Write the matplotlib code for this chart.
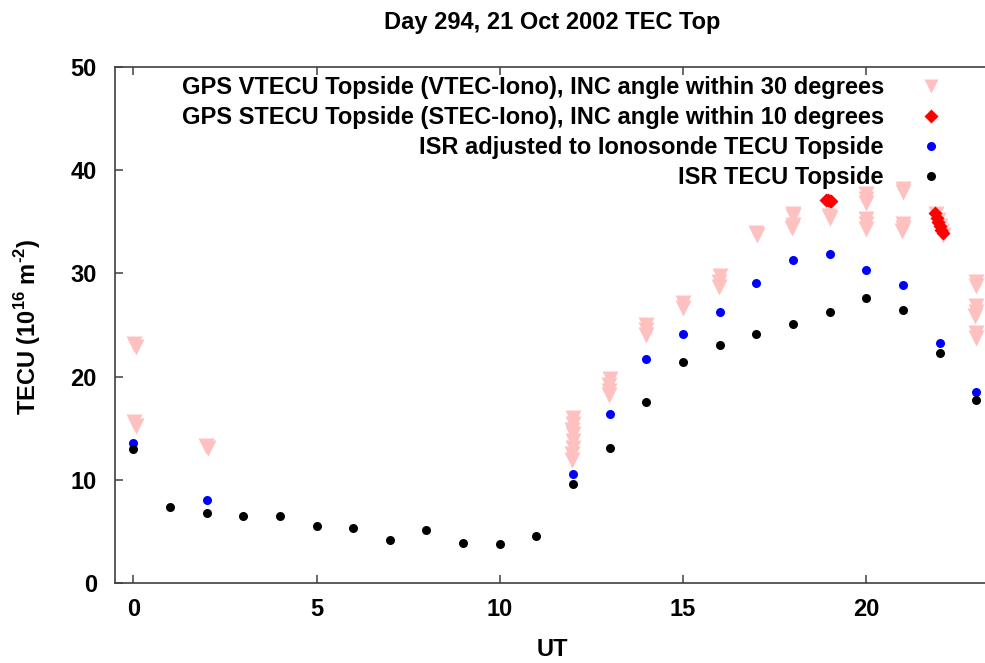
import matplotlib
matplotlib.use("Agg")
import matplotlib.pyplot as plt

plt.rcParams['font.family'] = ['Liberation Sans', 'DejaVu Sans']
plt.rcParams['font.weight'] = 'bold'
plt.rcParams['mathtext.fontset'] = 'custom'
plt.rcParams['mathtext.rm'] = 'Liberation Sans:bold'
plt.rcParams['mathtext.bf'] = 'Liberation Sans:bold'

# ISR topside TEC, one value per hour
isr_ut = list(range(24))
isr_tec = [12.95, 7.35, 6.8, 6.45, 6.45, 5.55, 5.3, 4.2, 5.15, 3.9, 3.75, 4.6,
           9.55, 13.05, 17.5, 21.45, 23.05, 24.1, 25.1, 26.3, 27.6, 26.45, 22.3, 17.7]

# ISR adjusted to ionosonde
adj_ut = [0, 2, 12, 13, 14, 15, 16, 17, 18, 19, 20, 21, 22, 23]
adj_tec = [13.6, 8.0, 10.6, 16.4, 21.7, 24.1, 26.3, 29.1, 31.3, 31.9, 30.3, 28.9, 23.3, 18.5]

# GPS vertical TEC (topside), INC angle within 30 degrees
vtec_ut = [0.03, 0.06, 0.03, 0.06, 1.97, 2.03,
           12.0, 12.0, 11.98, 12.0, 12.0, 11.99, 11.98, 11.97,
           13.0, 12.99, 12.98, 12.97,
           14.0, 13.99, 13.98,
           15.0, 14.99,
           16.0, 15.99, 15.98,
           16.98, 17.02,
           18.0, 18.0, 17.99, 17.98,
           18.98, 19.0,
           20.0, 20.0, 19.99, 20.0, 19.99, 19.98,
           21.0, 20.99, 21.0, 20.99, 20.98,
           21.9, 21.95, 22.0, 22.05, 22.1,
           23.0, 22.99, 23.0, 22.99, 22.98, 23.0, 22.99]
vtec_tec = [23.2, 22.9, 15.6, 15.2, 13.3, 13.1,
            16.0, 15.4, 14.8, 14.4, 13.8, 13.1, 12.5, 11.9,
            19.8, 19.2, 18.6, 18.2,
            25.0, 24.5, 24.0,
            27.1, 26.6,
            29.7, 29.2, 28.7,
            33.9, 33.7,
            35.8, 35.6, 34.7, 34.4,
            35.6, 35.4,
            37.7, 37.2, 36.8, 35.3, 34.8, 34.3,
            38.2, 37.9, 34.8, 34.4, 34.1,
            35.8, 35.2, 34.6, 34.0, 33.7,
            29.2, 28.8, 26.8, 26.3, 25.9, 24.2, 23.7]

# GPS slant TEC (topside), INC angle within 10 degrees
stec_ut = [18.9, 18.95, 19.0, 19.05, 21.89, 21.93, 21.97, 22.01, 22.05, 22.09]
stec_tec = [37.1, 37.1, 37.0, 37.0, 35.9, 35.4, 35.0, 34.6, 34.2, 33.9]

labels = ["GPS VTECU Topside (VTEC-Iono), INC angle within 30 degrees",
          "GPS STECU Topside (STEC-Iono), INC angle within 10 degrees",
          "ISR adjusted to Ionosonde TECU Topside",
          "ISR TECU Topside"]

W, H = 985, 663
fig = plt.figure(figsize=(W / 100, H / 100), dpi=100)
ax = fig.add_axes([115 / W, 1 - 583 / H, (989 - 115) / W, (583 - 67) / H])

ax.plot(vtec_ut, vtec_tec, 'v', color='#ffc0c0', ms=12, mec='none', label=labels[0])
ax.plot(stec_ut, stec_tec, 'D', color='#ff0000', ms=7, mec='none', label=labels[1])
ax.plot(adj_ut, adj_tec, 'o', color='#0000ff', ms=6.5, mec='none', label=labels[2])
ax.plot(isr_ut, isr_tec, 'o', color='#000000', ms=6.5, mec='none', label=labels[3])

ax.set_xlim(-0.5, 23.35)
ax.set_ylim(0, 50)
ax.set_xticks([0, 5, 10, 15, 20])
ax.set_yticks([0, 10, 20, 30, 40, 50])

for side in ['left', 'bottom', 'top']:
    ax.spines[side].set_color('#404040')
    ax.spines[side].set_linewidth(1.2)
ax.spines['right'].set_visible(False)
ax.tick_params(axis='x', direction='in', top=True, length=6, width=1.1,
               color='#404040', labelsize=17, pad=11)
ax.tick_params(axis='y', direction='in', length=6, width=1.1,
               color='#404040', labelsize=17, pad=13)
for lbl in ax.get_xticklabels() + ax.get_yticklabels():
    lbl.set_fontweight('bold')

fig.text(552 / W, 1 - 22 / H, "Day 294, 21 Oct 2002 TEC Top", ha='center', va='center',
         fontsize=17, fontweight='bold')
fig.text(552 / W, 1 - 650 / H, "UT", ha='center', va='center', fontsize=17, fontweight='bold')
fig.text(28 / W, 1 - 327 / H, r"TECU (10$^{\text{16}}$ m$^{\text{-2}}$)", rotation=90,
         ha='center', va='center', fontsize=17, fontweight='bold')

leg = ax.legend(loc='upper right', bbox_to_anchor=(943 / W, 1 - 76 / H),
                bbox_transform=fig.transFigure, frameon=False, markerfirst=False,
                fontsize=17, handlelength=1.0, handletextpad=1.5, labelspacing=0.3,
                borderpad=0, borderaxespad=0)
leg.legend_handles[0].set_markersize(10)

fig.savefig("out.png", dpi=100)
